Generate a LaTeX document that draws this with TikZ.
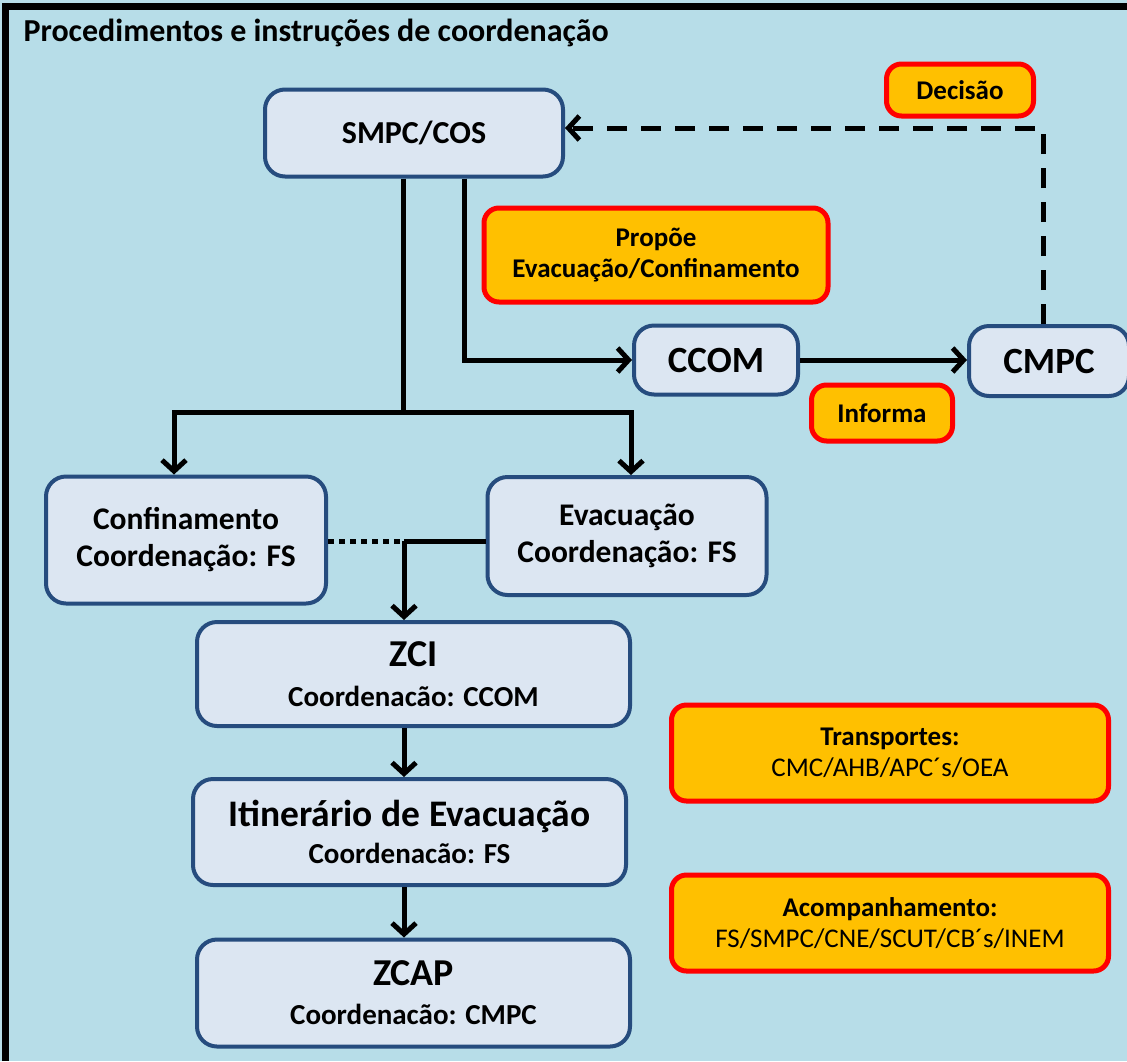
\documentclass[tikz,border=0pt]{standalone}
\usepackage{fontspec}
\setmainfont{Carlito}
\usetikzlibrary{arrows.meta}

\definecolor{panelblue}{RGB}{183,221,232}
\definecolor{boxfill}{RGB}{220,230,242}
\definecolor{boxedge}{RGB}{38,76,126}
\definecolor{noteorange}{RGB}{255,192,0}

\begin{document}
\begin{tikzpicture}[x=1pt, y=-1pt,
                    stage/.style={rectangle, rounded corners=20pt, draw=boxedge,
                                  line width=4pt, fill=boxfill, align=center, inner sep=0pt,
                                  font=\bfseries\fontsize{31.5}{37}\selectfont},
                    note/.style={rectangle, rounded corners=15pt, draw=red,
                                 line width=5pt, fill=noteorange, align=center, inner sep=0pt,
                                 font=\bfseries\fontsize{27}{31}\selectfont},
                    link/.style={line width=5pt},
                    flow/.style={link, -{Straight Barb[length=11pt, width=24pt]}}]
  % Panel.
  \clip (0, 0) rectangle (1127, 1061);
  \fill [panelblue] (0, 0) rectangle (1127, 1061);
  \draw [line width=7pt] (5, 1061) -- (5, 6) -- (1127, 6);
  \node at (20, 33) [anchor=west, name=Title,
                     font=\bfseries\fontsize{32}{36}\selectfont]
        {Procedimentos e instruções de coordenação};

  % Stages.
  \node at (414, 133) [stage, minimum width=298, minimum height=87, name=SMPC,
                       font=\bfseries\fontsize{32}{36}\selectfont] {SMPC/COS};
  \node at (716, 360) [stage, minimum width=164, minimum height=69, name=CCOM,
                       font=\bfseries\fontsize{37}{40}\selectfont] {CCOM};
  \node at (1049, 361) [stage, minimum width=160, minimum height=70, name=CMPC,
                        font=\bfseries\fontsize{37}{40}\selectfont] {CMPC};
  \node at (186, 540) [stage, minimum width=280, minimum height=127, name=Confinamento]
        {Confinamento\\Coordenação: FS};
  \node at (627, 536) [stage, minimum width=279, minimum height=118, name=Evacuacao]
        {Evacuação\\Coordenação: FS};
  \node at (413.5, 674) [stage, minimum width=433, minimum height=104, name=ZCI,
                         font=\bfseries\fontsize{29}{32}\selectfont]
        {{\fontsize{38}{42}\selectfont ZCI}\\[8pt]Coordenacão: CCOM};
  \node at (409.5, 832) [stage, minimum width=433, minimum height=106, name=Itinerario,
                         font=\bfseries\fontsize{29}{32}\selectfont]
        {{\fontsize{37.5}{41}\selectfont Itinerário de Evacuação}\\[5pt]Coordenacão: FS};
  \node at (413.5, 993) [stage, minimum width=433, minimum height=107, name=ZCAP,
                         font=\bfseries\fontsize{29}{32}\selectfont]
        {{\fontsize{38}{42}\selectfont ZCAP}\\[7pt]Coordenacão: CMPC};

  % Notes.
  \node at (960, 90) [note, minimum width=147, minimum height=52, name=Decisao] {Decisão};
  \node at (656, 255) [note, minimum width=344, minimum height=94, name=Propoe]
        {Propõe\\Evacuação/Confinamento};
  \node at (882, 413) [note, minimum width=141, minimum height=56, name=Informa] {Informa};
  \node at (890, 753) [note, minimum width=437, minimum height=96, name=Transportes]
        {Transportes:\\\mdseries CMC/AHB/APC´s/OEA};
  \node at (890, 923) [note, minimum width=437, minimum height=96, name=Acompanhamento]
        {Acompanhamento:\\\mdseries FS/SMPC/CNE/SCUT/CB´s/INEM};

  % Branch points.
  \coordinate (fork) at (403, 412);
  \coordinate (join) at (404, 541);

  % Proposal and decision.
  \draw [link] (SMPC.south -| fork) -- (fork);
  \draw [flow] (fork) -| ([xshift=-12pt]Confinamento.north);
  \draw [flow] (fork) -| ([xshift=4pt]Evacuacao.north);
  \draw [flow] ([xshift=50pt]SMPC.south) |- (CCOM.west);
  \draw [flow] (CCOM.east) -- (CMPC.west |- CCOM.east);
  \draw [flow, dash pattern=on 20pt off 14pt] ([xshift=-6pt]CMPC.north)
             |- ([yshift=5pt]SMPC.east);

  % Evacuation chain.
  \draw [link, dash pattern=on 6pt off 5pt] (Confinamento.east |- join) -- (join);
  \draw [link] (join) -- (Evacuacao.west |- join);
  \draw [flow] (join) -- (ZCI.north -| join);
  \draw [flow] (ZCI.south -| join) -- (Itinerario.north -| join);
  \draw [flow] (Itinerario.south -| join) -- (ZCAP.north -| join);
\end{tikzpicture}
\end{document}
